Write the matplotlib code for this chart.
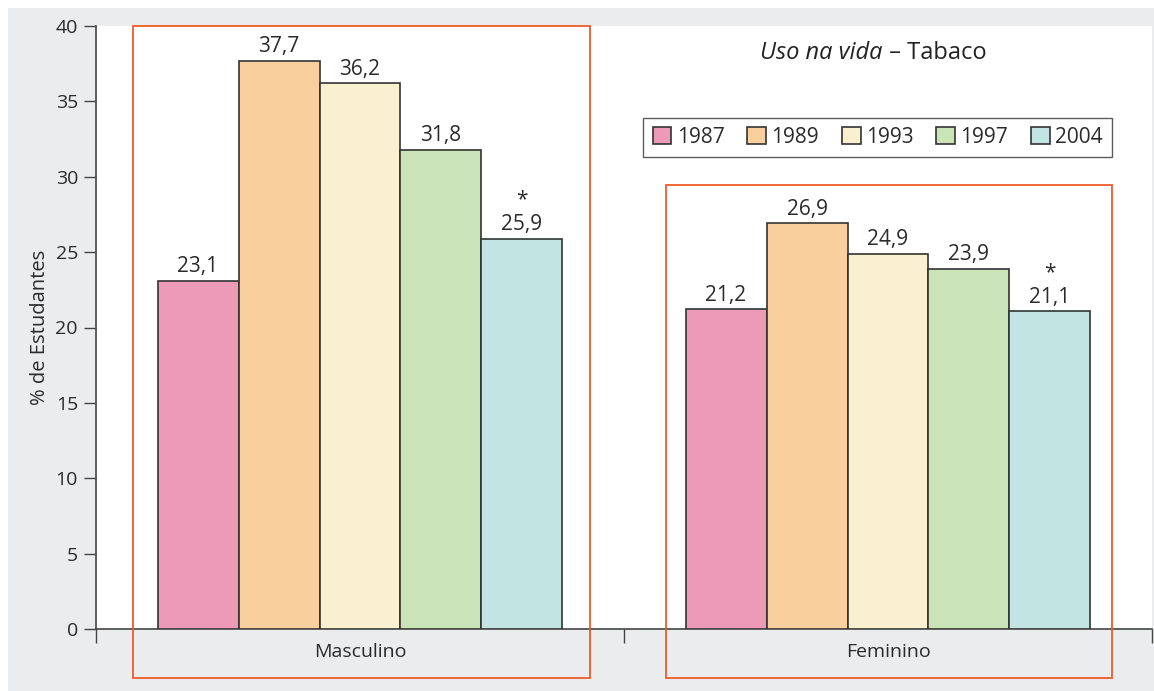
import numpy as np
import matplotlib as mpl
mpl.use('Agg')
import matplotlib.pyplot as plt
from matplotlib.patches import Rectangle

plt.rcParams['font.family'] = ['Open Sans', 'DejaVu Sans']

# data
groups = ['Masculino', 'Feminino']
years = ['1987', '1989', '1993', '1997', '2004']
values = {
    '1987': [23.1, 21.2],
    '1989': [37.7, 26.9],
    '1993': [36.2, 24.9],
    '1997': [31.8, 23.9],
    '2004': [25.9, 21.1],
}
starred = ['2004']
colors = ['#ec9ab8', '#f9cf9e', '#f9f0d0', '#cae4b7', '#c2e4e2']

W, H = 1154, 691
fig = plt.figure(figsize=(W / 100, H / 100), dpi=100, facecolor='white')
# gray panel behind the whole chart
fig.patches.append(Rectangle((8 / W, 0), 1 - 8 / W, 1 - 8 / H, transform=fig.transFigure,
                             facecolor='#ebeced', edgecolor='none', zorder=-10))

ax = fig.add_axes([96 / W, (H - 629) / H, (1152 - 96) / W, (629 - 26) / H])
ax.set_facecolor('white')

x = np.arange(len(groups))
bw = 0.1534
edge = '#333333'
txtc = '#2a2a2a'
for i, yr in enumerate(years):
    pos = x + (i - 2) * bw
    ax.bar(pos, values[yr], width=bw, color=colors[i], edgecolor=edge, linewidth=1.2,
           label=yr, zorder=3)
    for px, v in zip(pos, values[yr]):
        ax.text(px, v + 0.55, ('%.1f' % v).replace('.', ','), ha='center', va='baseline',
                fontsize=15, color=txtc)
        if yr in starred:
            ax.text(px, v + 2.2, '*', ha='center', va='baseline', fontsize=15, color=txtc)

ax.set_xlim(-0.5, 1.5)
ax.set_ylim(0, 40)
ax.set_yticks(np.arange(0, 41, 5))
ax.tick_params(axis='y', length=9, width=1, colors='#444444', labelsize=14, labelcolor=txtc, pad=4)

ax.set_xticks([-0.5, 0.5, 1.5])
ax.set_xticklabels([])
ax.tick_params(axis='x', which='major', length=10, width=1, colors='#444444', direction='out')
ax.set_xticks(x, minor=True)
ax.set_xticklabels(groups, minor=True)
ax.tick_params(axis='x', which='minor', length=0, labelsize=14, labelcolor=txtc, pad=10)

for s in ['top', 'right']:
    ax.spines[s].set_visible(False)
for s in ['left', 'bottom']:
    ax.spines[s].set_color('#444444')
    ax.spines[s].set_linewidth(1.2)

ax.set_ylabel('% de Estudantes', fontsize=14.5, color=txtc, labelpad=4)

# orange frames around each group
red = '#f05a28'
ax.add_patch(Rectangle((-0.43, -3.25), 0.8656, 43.25, fill=False, edgecolor=red,
                       linewidth=1.3, clip_on=False, zorder=5))
ax.add_patch(Rectangle((0.5795, -3.25), 0.8445, 29.45 + 3.25, fill=False, edgecolor=red,
                       linewidth=1.3, clip_on=False, zorder=5))

# title
ax.text(0.745, 0.955, 'Uso na vida', transform=ax.transAxes, ha='right', va='center',
        fontsize=17, style='italic', color='#222222')
ax.text(0.745, 0.955, ' \u2013 Tabaco', transform=ax.transAxes, ha='left', va='center',
        fontsize=17, color='#222222')

leg = ax.legend(loc='upper right', bbox_to_anchor=(0.962, 0.848), ncol=5, frameon=True,
                fancybox=False, fontsize=15, handlelength=0.9, handleheight=0.9,
                handletextpad=0.25, columnspacing=1.1, borderpad=0.45, borderaxespad=0)
leg.get_frame().set_edgecolor('#333333')
leg.get_frame().set_linewidth(1.0)
for t in leg.get_texts():
    t.set_color(txtc)

fig.savefig('out.png', dpi=100, facecolor=fig.get_facecolor())
